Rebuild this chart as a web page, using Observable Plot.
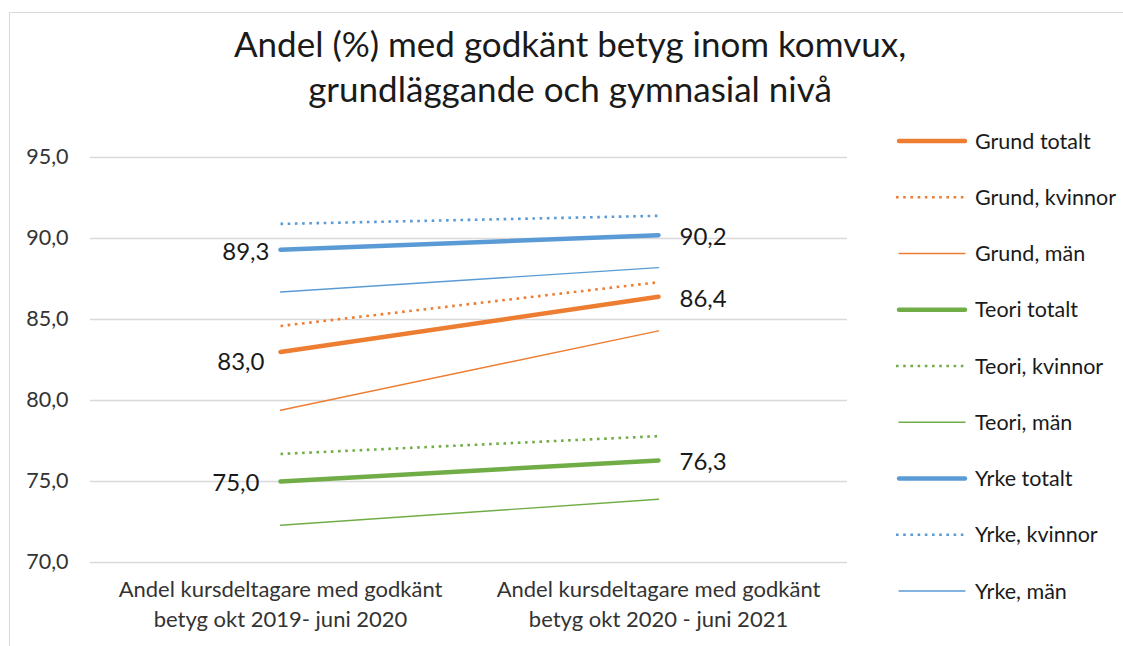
<!DOCTYPE html>
<html>
<head>
<meta charset="utf-8">
<script src="https://cdn.jsdelivr.net/npm/d3@7"></script>
<script src="https://cdn.jsdelivr.net/npm/@observablehq/plot@0.6"></script>
<style>
  html, body { margin: 0; padding: 0; background: #fff; }
  #wrap { position: relative; width: 1123px; height: 646px; overflow: hidden; font-family: Lato, "Open Sans", sans-serif; }
  #frame { position: absolute; left: 9px; top: 12px; width: 1200px; height: 700px; border: 1.5px solid #d9d9d9; box-sizing: border-box; }
  #title { position: absolute; left: 0; top: 21px; width: 1140px; text-align: center; font-size: 35px; line-height: 45px; color: #1a1a1a; }
  #chart { position: absolute; left: 0; top: 0; }
  #legend { position: absolute; left: 0; top: 0; }
</style>
</head>
<body>
<div id="wrap">
  <div id="frame"></div>
  <div id="chart"></div>
  <div id="title">Andel (%) med godkänt betyg inom komvux,<br>grundläggande och gymnasial nivå</div>
  <svg id="legend" width="1123" height="646"></svg>
</div>
<script>
// ---- data ----
const categories = [
  "Andel kursdeltagare med godkänt\nbetyg okt 2019- juni 2020",
  "Andel kursdeltagare med godkänt\nbetyg okt 2020 - juni 2021"
];
const seriesNames = [
  "Grund totalt", "Grund, kvinnor", "Grund, män",
  "Teori totalt", "Teori, kvinnor", "Teori, män",
  "Yrke totalt", "Yrke, kvinnor", "Yrke, män"
];
const values2019 = [83.0, 84.6, 79.4, 75.0, 76.7, 72.3, 89.3, 90.9, 86.7];
const values2020 = [86.4, 87.3, 84.3, 76.3, 77.8, 73.9, 90.2, 91.4, 88.2];
const yTicks = [70, 75, 80, 85, 90, 95];

// ---- styles ----
const groupColor = {Grund: "#ED7D31", Teori: "#70AD47", Yrke: "#5B9BD5"};
const kindStyle = {
  totalt: {strokeWidth: 4.5, dash: null},
  kvinnor: {strokeWidth: 2.6, dash: "2.6,4.6"},
  "män": {strokeWidth: 1.4, dash: null}
};
const leftLabelOffset = {"Grund totalt": [-16, 10], "Teori totalt": [-21, 2], "Yrke totalt": [-11, 2]};
const groupOf = s => s.split(/[ ,]/)[0];
const kindOf = s => s.includes("totalt") ? "totalt" : s.includes("kvinnor") ? "kvinnor" : "män";

const rows = [];
seriesNames.forEach((s, i) => {
  rows.push({series: s, cat: categories[0], value: values2019[i], idx: 0});
  rows.push({series: s, cat: categories[1], value: values2020[i], idx: 1});
});
const fmt = v => v.toFixed(1).replace(".", ",");

const marks = [
  Plot.gridY(yTicks, {stroke: "#d9d9d9", strokeOpacity: 1, strokeWidth: 1.3})
];
seriesNames.forEach(s => {
  const st = kindStyle[kindOf(s)];
  marks.push(Plot.line(rows.filter(r => r.series === s), {
    x: "cat", y: "value",
    stroke: groupColor[groupOf(s)],
    strokeWidth: st.strokeWidth,
    strokeDasharray: st.dash,
    strokeLinecap: st.dash ? "butt" : "round"
  }));
});
const labelRows = rows.filter(r => kindOf(r.series) === "totalt");
labelRows.filter(r => r.idx === 0).forEach(r => {
  const [dx, dy] = leftLabelOffset[r.series];
  marks.push(Plot.text([r], {
    x: "cat", y: "value", text: d => fmt(d.value),
    textAnchor: "end", dx, dy, fontSize: 24, fill: "#1a1a1a"
  }));
});
marks.push(Plot.text(labelRows.filter(r => r.idx === 1), {
  x: "cat", y: "value", text: d => fmt(d.value),
  textAnchor: "start", dx: 21, dy: 2,
  fontSize: 24, fill: "#1a1a1a"
}));
marks.push(Plot.axisY(yTicks, {
  tickSize: 0, tickPadding: 22, tickFormat: fmt, fontSize: 21.5, fill: "#333"
}));
marks.push(Plot.axisX(categories, {
  tickSize: 0, tickPadding: 13, fontSize: 22, lineHeight: 1.38, fill: "#333"
}));

const chart = Plot.plot({
  width: 1123, height: 646,
  marginLeft: 90, marginRight: 276, marginTop: 157, marginBottom: 84,
  style: {fontFamily: "Lato, 'Open Sans', sans-serif", background: "transparent", overflow: "visible"},
  x: {type: "point", domain: categories, padding: 0.5, label: null},
  y: {domain: [70, 95], label: null},
  marks
});
document.getElementById("chart").appendChild(chart);

// ---- legend ----
const leg = d3.select("#legend");
seriesNames.forEach((s, i) => {
  const st = kindStyle[kindOf(s)];
  const cy = 141 + i * 56.25;
  leg.append("line")
    .attr("x1", st.dash ? 896 : 899).attr("x2", st.dash ? 967 : 965)
    .attr("y1", cy).attr("y2", cy)
    .attr("stroke", groupColor[groupOf(s)])
    .attr("stroke-width", st.strokeWidth)
    .attr("stroke-dasharray", st.dash)
    .attr("stroke-linecap", st.dash ? "butt" : "round");
  leg.append("text")
    .attr("x", 975).attr("y", cy).attr("dy", "0.35em")
    .attr("font-family", "Lato, 'Open Sans', sans-serif")
    .attr("font-size", 21.5).attr("fill", "#1a1a1a")
    .text(s);
});
</script>
</body>
</html>
